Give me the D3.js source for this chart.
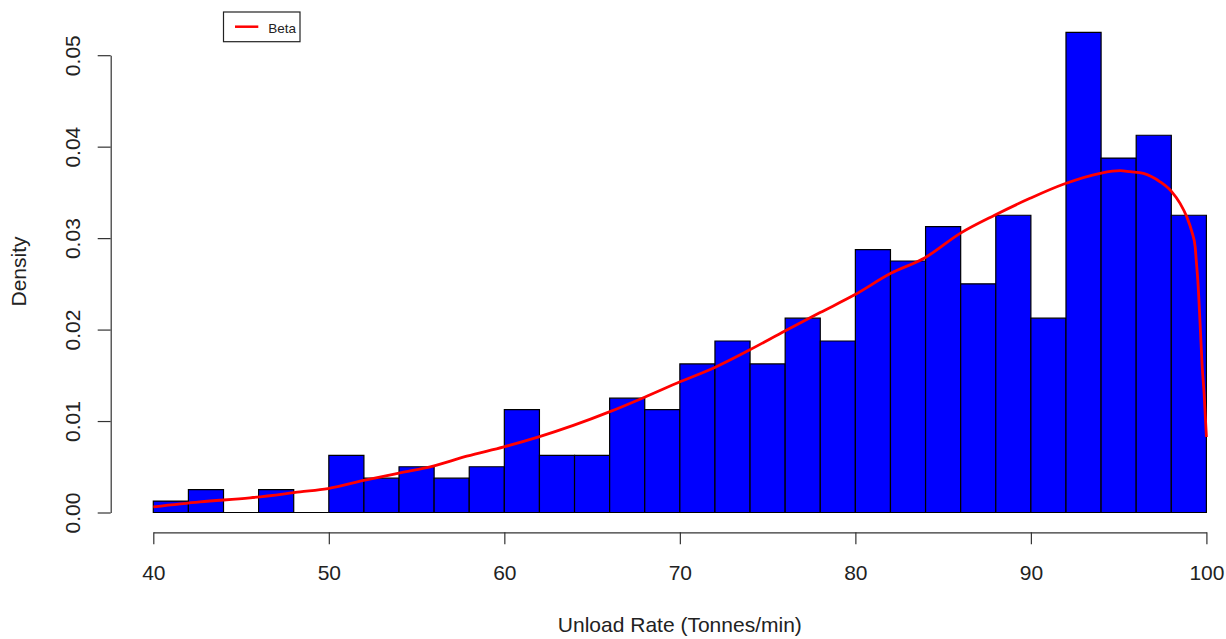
<!DOCTYPE html>
<html>
<head>
<meta charset="utf-8">
<script src="https://cdn.jsdelivr.net/npm/d3@7"></script>
<style>
  html, body { margin: 0; padding: 0; background: #fff; }
  svg { display: block; font-family: Arial, "Liberation Sans", sans-serif; }
</style>
</head>
<body>
<svg id="chart" width="1226" height="639"></svg>
<script>
// ── data ──────────────────────────────────────────────
// histogram bins (left edges, width 2) and densities
const binStarts = [40, 42, 44, 46, 48, 50, 52, 54, 56, 58, 60, 62, 64, 66, 68,
                   70, 72, 74, 76, 78, 80, 82, 84, 86, 88, 90, 92, 94, 96, 98];
const binWidth = 2;
const densities = [0.00125, 0.0025, 0, 0.0025, 0, 0.00625, 0.00375, 0.005, 0.00375, 0.005,
                   0.01125, 0.00625, 0.00625, 0.0125, 0.01125, 0.01625, 0.01875, 0.01625, 0.02125, 0.01875,
                   0.02875, 0.0275, 0.03125, 0.025, 0.0325, 0.02125, 0.0525, 0.03875, 0.04125, 0.0325];

// fitted beta curve
const betaX = [40, 42.66, 45.51, 48.36, 49.95, 52.06, 54.06, 55.95, 57.86, 59.98,
               61.96, 63.93, 65.98, 67.96, 70.01, 71.99, 73.96, 76.01, 77.99, 79.93,
               82.02, 83.97, 85.97, 87.96, 89.95, 91.85, 93.94, 95.08, 95.66, 96.41,
               97.36, 98.03, 98.5, 98.88, 99.17, 99.36, 99.42, 99.51, 99.64, 99.76,
               99.87, 100];
const betaY = [0.00061, 0.00116, 0.0016, 0.00225, 0.00262, 0.00353, 0.00433, 0.00507, 0.00616, 0.00718,
               0.00827, 0.00952, 0.0110, 0.01258, 0.01429, 0.01586, 0.01776, 0.01987, 0.02186, 0.02377,
               0.02615, 0.02786, 0.03052, 0.03253, 0.03435, 0.03589, 0.03709, 0.03738, 0.03726, 0.03708,
               0.03616, 0.03506, 0.0338, 0.03233, 0.0307, 0.02905, 0.0276, 0.02541, 0.02068, 0.01593,
               0.01302, 0.00826];

const xTicks = [40, 50, 60, 70, 80, 90, 100];
const yTicks = [0, 0.01, 0.02, 0.03, 0.04, 0.05];
const xTitle = 'Unload Rate (Tonnes/min)';
const yTitle = 'Density';
const legendLabel = 'Beta';

// ── scales ────────────────────────────────────────────
const svg = d3.select('#chart');
const x = d3.scaleLinear().domain([40, 100]).range([153.3, 1206.4]);
const y = d3.scaleLinear().domain([0, 0.05]).range([512.5, 55.2]);

// ── bars (as paths so empty bins still leave their base line) ──
svg.append('g')
  .selectAll('path')
  .data(binStarts.map((b, i) => ({ b, d: densities[i] })))
  .enter()
  .append('path')
    .attr('d', d => {
      const x0 = x(d.b), x1 = x(d.b + binWidth), y0 = y(0), y1 = y(d.d);
      return `M${x0},${y0}H${x1}V${y1}H${x0}Z`;
    })
    .attr('fill', '#0000ff')
    .attr('stroke', '#000')
    .attr('stroke-width', 1.2);

// ── beta curve ────────────────────────────────────────
const line = d3.line()
  .x(d => x(d[0]))
  .y(d => y(d[1]))
  .curve(d3.curveMonotoneX);
svg.append('path')
  .datum(betaX.map((v, i) => [v, betaY[i]]))
  .attr('d', line)
  .attr('fill', 'none')
  .attr('stroke', '#ff0000')
  .attr('stroke-width', 2.8)
  .attr('stroke-linejoin', 'round');

// ── x axis ────────────────────────────────────────────
const xAxis = svg.append('g')
  .attr('transform', 'translate(0,532.3)')
  .call(d3.axisBottom(x).tickValues(xTicks).tickSize(12).tickSizeOuter(0));
xAxis.select('.domain').attr('stroke', '#333').attr('stroke-width', 1.2);
xAxis.selectAll('.tick line').attr('stroke', '#333').attr('stroke-width', 1.2);
xAxis.selectAll('.tick text')
  .attr('y', 48).attr('dy', 0)
  .attr('font-size', 21).attr('fill', '#222')
  .attr('font-family', 'Arial, "Liberation Sans", sans-serif');

// ── y axis ────────────────────────────────────────────
const yAxis = svg.append('g')
  .attr('transform', 'translate(110.7,0)')
  .call(d3.axisLeft(y).tickValues(yTicks).tickFormat(d3.format('.2f')).tickSize(13).tickSizeOuter(0));
yAxis.select('.domain').attr('stroke', '#333').attr('stroke-width', 1.2);
yAxis.selectAll('.tick line').attr('stroke', '#333').attr('stroke-width', 1.2);
yAxis.selectAll('.tick text')
  .attr('transform', 'rotate(-90)')
  .attr('x', 0).attr('y', -31).attr('dy', 0)
  .attr('text-anchor', 'middle')
  .attr('font-size', 21).attr('fill', '#222')
  .attr('font-family', 'Arial, "Liberation Sans", sans-serif');

// ── axis titles ───────────────────────────────────────
svg.append('text')
  .attr('x', x(70)).attr('y', 632)
  .attr('text-anchor', 'middle')
  .attr('font-size', 21).attr('fill', '#222')
  .text(xTitle);

svg.append('text')
  .attr('transform', `translate(26,${y(0.02635)}) rotate(-90)`)
  .attr('text-anchor', 'middle')
  .attr('font-size', 21).attr('fill', '#222')
  .text(yTitle);

// ── legend ────────────────────────────────────────────
const legend = svg.append('g');
legend.append('line')
  .attr('x1', 235).attr('x2', 258.3)
  .attr('y1', 26.7).attr('y2', 26.7)
  .attr('stroke', '#ff0000').attr('stroke-width', 2.5);
legend.append('text')
  .attr('x', 268.3).attr('y', 33.3)
  .attr('font-size', 13.5).attr('fill', '#222')
  .text(legendLabel);
legend.append('rect')
  .attr('x', 223.5).attr('y', 12)
  .attr('width', 76.5).attr('height', 29.7)
  .attr('fill', 'none')
  .attr('stroke', '#222').attr('stroke-width', 1.2);
</script>
</body>
</html>
